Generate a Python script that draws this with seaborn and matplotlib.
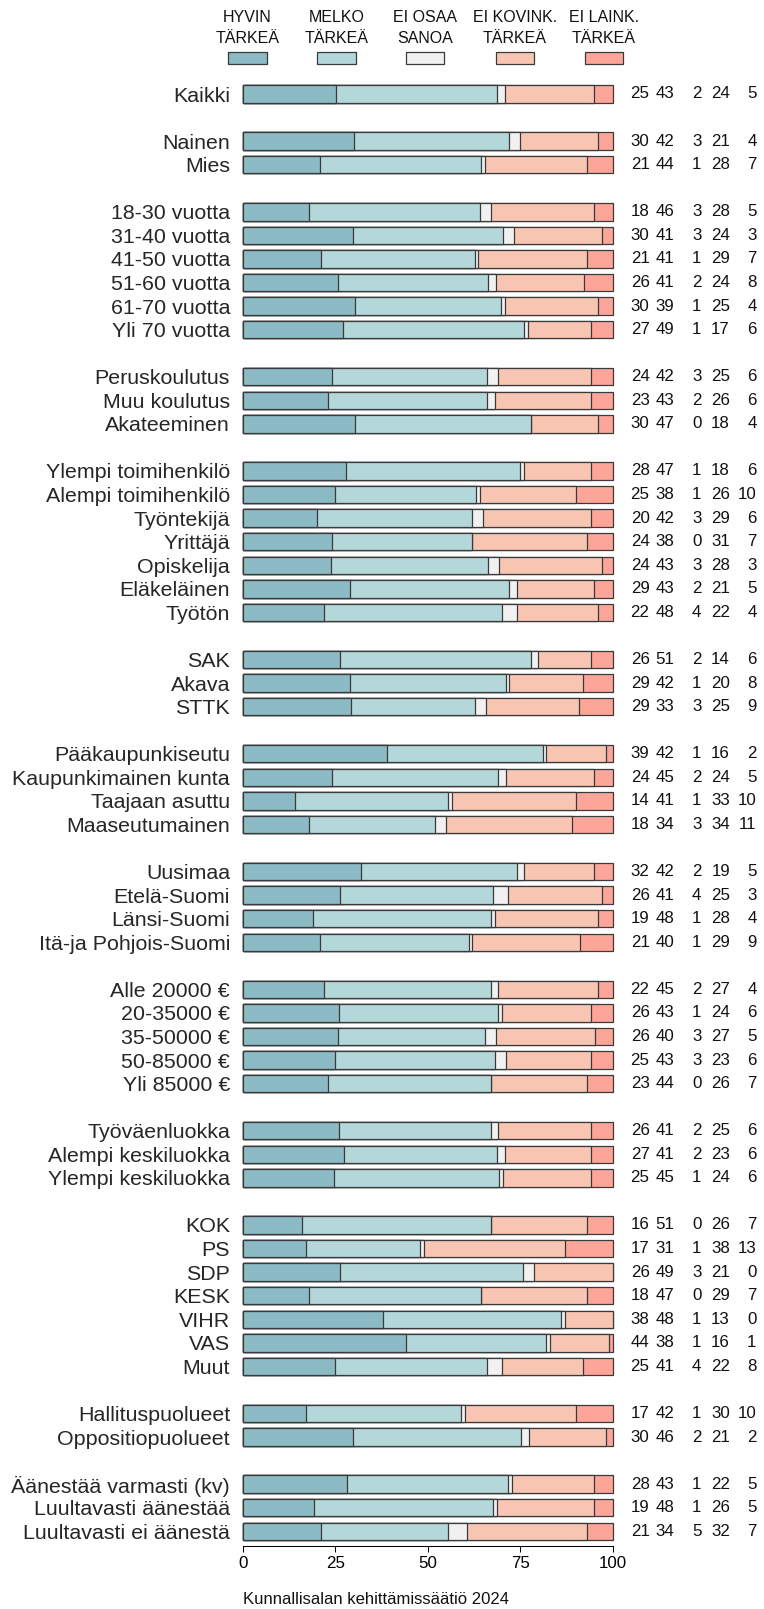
import matplotlib
matplotlib.use("Agg")
import matplotlib.pyplot as plt
import matplotlib.transforms as mtransforms
from matplotlib.patches import Rectangle
import numpy as np
import pandas as pd
import seaborn as sns

# ---------------- data ----------------
groups = [
    ["Kaikki"],
    ["Nainen", "Mies"],
    ["18-30 vuotta", "31-40 vuotta", "41-50 vuotta", "51-60 vuotta", "61-70 vuotta", "Yli 70 vuotta"],
    ["Peruskoulutus", "Muu koulutus", "Akateeminen"],
    ["Ylempi toimihenkilö", "Alempi toimihenkilö", "Työntekijä", "Yrittäjä", "Opiskelija",
     "Eläkeläinen", "Työtön"],
    ["SAK", "Akava", "STTK"],
    ["Pääkaupunkiseutu", "Kaupunkimainen kunta", "Taajaan asuttu", "Maaseutumainen"],
    ["Uusimaa", "Etelä-Suomi", "Länsi-Suomi", "Itä-ja Pohjois-Suomi"],
    ["Alle 20000 €", "20-35000 €", "35-50000 €", "50-85000 €", "Yli 85000 €"],
    ["Työväenluokka", "Alempi keskiluokka", "Ylempi keskiluokka"],
    ["KOK", "PS", "SDP", "KESK", "VIHR", "VAS", "Muut"],
    ["Hallituspuolueet", "Oppositiopuolueet"],
    ["Äänestää varmasti (kv)", "Luultavasti äänestää", "Luultavasti ei äänestä"],
]

hyvin = [25, 30, 21, 18, 30, 21, 26, 30, 27, 24, 23, 30, 28, 25, 20, 24, 24, 29, 22,
         26, 29, 29, 39, 24, 14, 18, 32, 26, 19, 21, 22, 26, 26, 25, 23, 26, 27, 25,
         16, 17, 26, 18, 38, 44, 25, 17, 30, 28, 19, 21]
melko = [43, 42, 44, 46, 41, 41, 41, 39, 49, 42, 43, 47, 47, 38, 42, 38, 43, 43, 48,
         51, 42, 33, 42, 45, 41, 34, 42, 41, 48, 40, 45, 43, 40, 43, 44, 41, 41, 45,
         51, 31, 49, 47, 48, 38, 41, 42, 46, 43, 48, 34]
eos = [2, 3, 1, 3, 3, 1, 2, 1, 1, 3, 2, 0, 1, 1, 3, 0, 3, 2, 4,
       2, 1, 3, 1, 2, 1, 3, 2, 4, 1, 1, 2, 1, 3, 3, 0, 2, 2, 1,
       0, 1, 3, 0, 1, 1, 4, 1, 2, 1, 1, 5]
ei_kovin = [24, 21, 28, 28, 24, 29, 24, 25, 17, 25, 26, 18, 18, 26, 29, 31, 28, 21, 22,
            14, 20, 25, 16, 24, 33, 34, 19, 25, 28, 29, 27, 24, 27, 23, 26, 25, 23, 24,
            26, 38, 21, 29, 13, 16, 22, 30, 21, 22, 26, 32]
ei_lain = [5, 4, 7, 5, 3, 7, 8, 4, 6, 6, 6, 4, 6, 10, 6, 7, 3, 5, 4,
           6, 8, 9, 2, 5, 10, 11, 5, 3, 4, 9, 4, 6, 5, 6, 7, 6, 6, 6,
           7, 13, 0, 7, 0, 1, 8, 10, 2, 5, 5, 7]

legend_labels = ["HYVIN\nTÄRKEÄ", "MELKO\nTÄRKEÄ", "EI OSAA\nSANOA",
                 "EI KOVINK.\nTÄRKEÄ", "EI LAINK.\nTÄRKEÄ"]
xticks = [0, 25, 50, 75, 100]
footer = "Kunnallisalan kehittämissäätiö 2024"

# ---------------- styling ----------------
colors = ["#8CBAC5", "#B4D7DA", "#F1F1F1", "#F9C5B3", "#FEA599"]
edge = "#3a3a3a"

sns.set_style("white")
plt.rcParams["font.family"] = ["Liberation Sans", "DejaVu Sans"]

# row positions (one blank slot between groups)
labels, positions = [], []
p = 0
for g in groups:
    for lab in g:
        labels.append(lab)
        positions.append(p)
        p += 1
    p += 1

cols = ["hyvin", "melko", "eos", "ei_kovin", "ei_lain"]
df = pd.DataFrame({"label": labels, "pos": positions, "hyvin": hyvin, "melko": melko,
                   "eos": eos, "ei_kovin": ei_kovin, "ei_lain": ei_lain})
shares = df[cols].div(df[cols].sum(axis=1), axis=0) * 100
cum = shares.cumsum(axis=1)

W, H = 764, 1609
fig = plt.figure(figsize=(W / 100, H / 100), dpi=100)

# axes placement in pixels
x0_px, x100_px = 242.7, 613.0
ppu = (x100_px - x0_px) / 100.0
xlo, xhi = -2, 102
left_px = x0_px + xlo * ppu
right_px = x0_px + xhi * ppu
top_px, bot_px = 80.0, 1546.0
first_c, last_c = 94.0, 1531.3
n_last = positions[-1]
slot = (last_c - first_c) / n_last
ytop = 0 - (first_c - top_px) / slot
ybot = n_last + (bot_px - last_c) / slot

ax = fig.add_axes([left_px / W, 1 - bot_px / H, (right_px - left_px) / W, (bot_px - top_px) / H])

for k in range(4, -1, -1):
    sns.barplot(x=cum[cols[k]].values, y=df["pos"].values, orient="h", native_scale=True,
                width=0.74, color=colors[k], saturation=1, edgecolor=edge, linewidth=0.9,
                errorbar=None, ax=ax)

ax.set_xlim(xlo, xhi)
ax.set_ylim(ybot, ytop)
ax.set_yticks(positions)
ax.set_yticklabels(labels, fontsize=15.4)
ax.tick_params(axis="y", length=0, pad=3.8)
ax.set_xticks(xticks)
ax.set_xticklabels([str(t) for t in xticks], fontsize=12.2)
ax.tick_params(axis="x", length=4.3, width=0.75, pad=3.0, colors="black", direction="out")
ax.xaxis.set_ticks_position("bottom")
ax.set_xlabel("")
ax.set_ylabel("")
for s in ["top", "right", "left"]:
    ax.spines[s].set_visible(False)
ax.spines["bottom"].set_bounds(0, 100)
ax.spines["bottom"].set_linewidth(0.75)
ax.spines["bottom"].set_color("black")
ax.grid(False)

# numbers on the right
trans = mtransforms.blended_transform_factory(fig.transFigure, ax.transData)
num_right_px = [649.5, 674.0, 701.5, 730.0, 756.5]
for i, row in df.iterrows():
    for c, xr in zip(cols, num_right_px):
        ax.text(xr / W, row["pos"], str(row[c]), transform=trans, ha="right", va="center",
                fontsize=12.2, color="#111111", clip_on=False)

# legend at top
patch_x = [(228, 267), (317, 356), (406, 444), (496, 534), (585, 623)]
for (a, b), col, lab in zip(patch_x, colors, legend_labels):
    fig.add_artist(Rectangle((a / W, 1 - 64 / H), (b - a) / W, 12 / H,
                             transform=fig.transFigure, facecolor=col, edgecolor=edge,
                             linewidth=0.9))
    cx = (a + b) / 2 / W
    l1, l2 = lab.split("\n")
    fig.text(cx, 1 - 21.5 / H, l1, ha="center", va="baseline", fontsize=11.5,
             color="#111111")
    fig.text(cx, 1 - 42.7 / H, l2, ha="center", va="baseline", fontsize=11.5,
             color="#111111")

fig.text(375.7 / W, 1 - 1604 / H, footer, ha="center", va="baseline", fontsize=12,
         color="#111111")

fig.savefig("out.png", dpi=100)
